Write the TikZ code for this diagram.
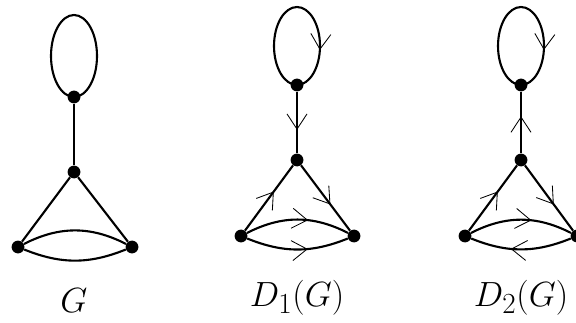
\documentclass[tikz,border=0pt]{standalone}
\usepackage{amsmath}
\usetikzlibrary{arrows.meta, decorations.markings, positioning}

\begin{document}
\begin{tikzpicture}[
    x=0.025cm, y=0.025cm,
    vert/.style={circle, fill=black, inner sep=0pt, minimum size=0.32cm},
    edge/.style={line width=1.5pt},
    arr/.style={postaction={decorate}, decoration={markings,
        mark=at position #1 with {\arrow{Straight Barb[length=0.38cm, width=0.5cm, line width=0.6pt]}}}},
    lbl/.style={font=\Huge}
]
\useasboundingbox (0,0) rectangle (576,322);

% Graph G
\node[vert] (ga) at (74,225) {};
\node[vert] (gb) at (74,150) {};
\node[vert] (gc) at (18,75) {};
\node[vert] (gd) at (132,75) {};
\draw[edge] (ga.center) arc[start angle=270, end angle=-90, x radius=23, y radius=41];
\draw[edge] (ga) -- (gb);
\draw[edge] (gc) -- (gb);
\draw[edge] (gb) -- (gd);
\draw[edge] (gc) to[bend left=27] (gd);
\draw[edge] (gc) to[bend right=22] (gd);
\node[lbl] (lg) at (74,21) {$G$};

% D_1(G)
\node[vert] (pa) at (297,237) {};
\node[vert] (pb) at (297,162) {};
\node[vert] (pc) at (241,86) {};
\node[vert] (pd) at (354,86) {};
\draw[edge, arr=0.77] (pa.center) arc[start angle=270, end angle=-90, x radius=23, y radius=39];
\draw[edge, arr=0.62] (pa) -- (pb);
\draw[edge, arr=0.6] (pc) -- (pb);
\draw[edge, arr=0.6] (pb) -- (pd);
\draw[edge, arr=0.6] (pc) to[bend left=27] (pd);
\draw[edge, arr=0.6] (pc) to[bend right=22] (pd);
\node[lbl] (lp) at (297,24) {$D_1(G)$};

% D_2(G)
\node[vert] (qa) at (521,237) {};
\node[vert] (qb) at (521,162) {};
\node[vert] (qc) at (465,86) {};
\node[vert] (qd) at (577,86) {};
\draw[edge, arr=0.77] (qa.center) arc[start angle=270, end angle=-90, x radius=23, y radius=39];
\draw[edge, arr=0.6] (qb) -- (qa);
\draw[edge, arr=0.6] (qc) -- (qb);
\draw[edge, arr=0.6] (qb) -- (qd);
\draw[edge, arr=0.6] (qc) to[bend left=27] (qd);
\draw[edge, arr=0.6] (qd) to[bend left=22] (qc);
\node[lbl] (lq) at (521,24) {$D_2(G)$};

\end{tikzpicture}
\end{document}
